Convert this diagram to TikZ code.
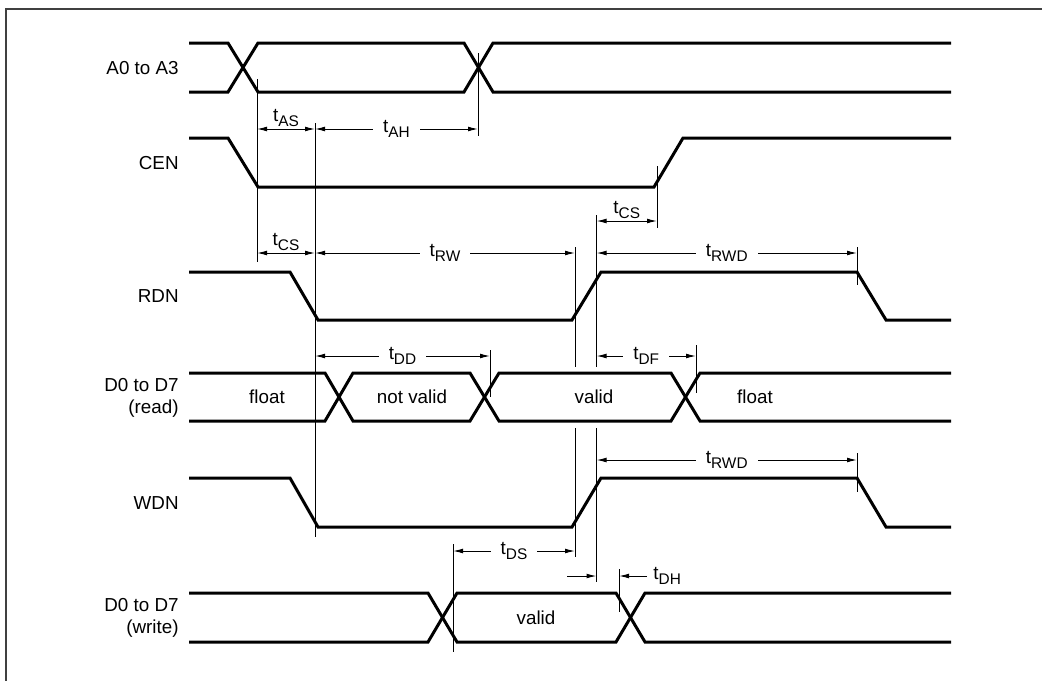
\documentclass[tikz,border=0pt]{standalone}
\usepackage{fontspec}
\setmainfont{Liberation Sans}
\usepackage{tikz}
\usetikzlibrary{arrows.meta, positioning}

\newcommand{\tsub}[1]{t\raisebox{-0.45ex}{\fontsize{7.7}{8}\selectfont #1}}

\begin{document}
\begin{tikzpicture}[
    x=0.5pt, y=-0.5pt,
    sig/.style={line width=1.5pt, draw=black},
    guide/.style={line width=0.5pt, draw=black},
    dim/.style={line width=0.5pt, draw=black,
                {Latex[length=5pt, width=2.4pt]}-{Latex[length=5pt, width=2.4pt]}},
    single/.style={line width=0.5pt, draw=black, -{Latex[length=5pt, width=2.4pt]}},
    signame/.style={anchor=east, align=right, font=\fontsize{9.4}{11}\selectfont, inner sep=0pt},
    busval/.style={font=\fontsize{9.4}{11}\selectfont, inner sep=0pt},
    tlabel/.style={font=\fontsize{9.4}{11}\selectfont, fill=white, inner xsep=5pt, inner ysep=1pt},
]
\useasboundingbox (0,0) rectangle (1042,680);
\draw[line width=1.3pt, draw=black!75] (6,9) rectangle (1070,700);

% signal names
\node[signame] (nA)   at (179,68)  {A0 to A3};
\node[signame] (nCEN) at (179,163) {CEN};
\node[signame] (nRDN) at (179,296) {RDN};
\node[signame] (nDR)  at (179,398) {D0 to D7\\(read)};
\node[signame] (nWDN) at (179,503) {WDN};
\node[signame] (nDW)  at (179,618) {D0 to D7\\(write)};

% waveforms
\draw[sig] (189,43) -- (228,43) -- (258,92) -- (464,92) -- (493,43) -- (951,43);
\draw[sig] (189,92) -- (228,92) -- (258,43) -- (464,43) -- (493,92) -- (951,92);
\draw[sig] (189,138) -- (228,138) -- (258,187) -- (654,187) -- (683,138) -- (951,138);
\draw[sig] (189,272) -- (290,272) -- (318,320) -- (572,320) -- (601,272) -- (857,272) -- (886,320) -- (951,320);
\draw[sig] (189,373) -- (325,373) -- (353,421) -- (470,421) -- (499,373) -- (671,373) -- (700,421) -- (951,421);
\draw[sig] (189,421) -- (325,421) -- (353,373) -- (470,373) -- (499,421) -- (671,421) -- (700,373) -- (951,373);
\draw[sig] (189,478) -- (290,478) -- (318,527) -- (572,527) -- (601,478) -- (857,478) -- (886,527) -- (951,527);
\draw[sig] (189,593) -- (428,593) -- (457,642) -- (616,642) -- (645,593) -- (951,593);
\draw[sig] (189,642) -- (428,642) -- (457,593) -- (616,593) -- (645,642) -- (951,642);

% bus contents
\node[busval] (rd1) at (267,397) {float};
\node[busval] (rd2) at (412,397) {not valid};
\node[busval] (rd3) at (594,397) {valid};
\node[busval] (rd4) at (755,397) {float};
\node[busval] (wr1) at (536,618) {valid};

% reference lines
\coordinate (aS) at (257,79);   \coordinate (aE) at (257,262);
\coordinate (bS) at (315,123);  \coordinate (bE) at (315,537);
\coordinate (cS) at (478,53);   \coordinate (cE) at (478,136);
\coordinate (dS) at (657,166);  \coordinate (dE) at (657,228);
\coordinate (eS) at (596.5,215); \coordinate (eM) at (596.5,367);
\coordinate (eN) at (596.5,428); \coordinate (eE) at (596.5,582);
\coordinate (fS) at (575,247);  \coordinate (fM) at (575,367);
\coordinate (fN) at (575,428);  \coordinate (fE) at (575,557);
\coordinate (gS) at (857,247);  \coordinate (gE) at (857,285);
\coordinate (hS) at (490,350);  \coordinate (hE) at (490,397);
\coordinate (iS) at (696,345);  \coordinate (iE) at (696,393);
\coordinate (jS) at (857,453);  \coordinate (jE) at (857,492);
\coordinate (kS) at (453,544);  \coordinate (kE) at (453,652);
\coordinate (lS) at (619,569);  \coordinate (lE) at (619,612);
\draw[guide] (aS) -- (aE);
\draw[guide] (bS) -- (bE);
\draw[guide] (cS) -- (cE);
\draw[guide] (dS) -- (dE);
\draw[guide] (eS) -- (eM);  \draw[guide] (eN) -- (eE);
\draw[guide] (fS) -- (fM);  \draw[guide] (fN) -- (fE);
\draw[guide] (gS) -- (gE);
\draw[guide] (hS) -- (hE);
\draw[guide] (iS) -- (iE);
\draw[guide] (jS) -- (jE);
\draw[guide] (kS) -- (kE);
\draw[guide] (lS) -- (lE);

% timing arrows
\draw[dim] (257,129) -- node[tlabel, above=0pt, fill=none] (tAS) {\tsub{AS}} (315,129);
\draw[dim] (315,129) -- node[tlabel] (tAH) {\tsub{AH}} (478,129);
\draw[dim] (596.5,221) -- node[tlabel, above=0pt, fill=none] (tCSb) {\tsub{CS}} (657,221);
\draw[dim] (257,253) -- node[tlabel, above=0pt, fill=none] (tCSa) {\tsub{CS}} (315,253);
\draw[dim] (315,253) -- node[tlabel] (tRW) {\tsub{RW}} (575,253);
\draw[dim] (596.5,253) -- node[tlabel] (tRWDa) {\tsub{RWD}} (857,253);
\draw[dim] (315,356) -- node[tlabel] (tDD) {\tsub{DD}} (490,356);
\draw[dim] (596.5,356) -- node[tlabel] (tDF) {\tsub{DF}} (696,356);
\draw[dim] (596.5,460) -- node[tlabel] (tRWDb) {\tsub{RWD}} (857,460);
\draw[dim] (453,551) -- node[tlabel] (tDS) {\tsub{DS}} (575,551);
\draw[single] (567,576) -- (596.5,576);
\node[tlabel, anchor=west, inner xsep=0pt] (tDH) at (653,576) {\tsub{DH}};
\draw[single] (tDH.west) ++(-6,0) -- (619,576);
\end{tikzpicture}
\end{document}
